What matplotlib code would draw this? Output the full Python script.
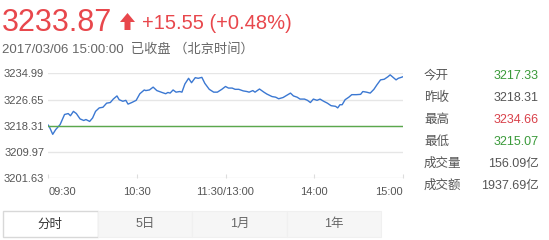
import matplotlib
matplotlib.use("Agg")
import matplotlib.pyplot as plt
from matplotlib.patches import Rectangle, Polygon

plt.rcParams['font.family'] = ['Liberation Sans', 'Noto Sans CJK SC']

# minutes since 09:30 (lunch break removed), index price
minutes = [0, 1, 3, 5, 8, 11, 13.5, 15, 17, 19, 21.5, 24, 25.5, 28, 30, 32, 34.5, 37,
           39.5, 42, 44, 46.5, 48, 50.5, 52.5, 54, 56.5, 59.5, 62, 65, 66, 68.5, 71,
           73.5, 77, 79.5, 81, 82.5, 84.5, 86.5, 89, 90.5, 92.5, 95, 97, 99.5, 101.5,
           104, 106, 109, 112, 114.5, 117.5, 120, 122, 124.5, 126.5, 129, 132, 134.5,
           136, 138.5, 140, 143, 146, 148, 151.5, 154, 156, 159, 161.5, 164, 166,
           168.5, 170.5, 173.5, 175.5, 177.5, 179.5, 182, 184, 186.5, 189, 191.5,
           194.5, 196, 197.5, 199, 201, 203.5, 205.5, 208.5, 211.5, 213, 215.5, 218,
           220.5, 222.5, 225, 227.5, 230, 231.5, 233.5, 235.5, 237, 239, 240]
prices = [3218.5, 3217.7, 3215.6, 3217.1, 3218.7, 3221.9, 3222.2, 3221.5, 3222.9,
          3222.2, 3220.5, 3220.0, 3220.3, 3219.7, 3220.8, 3222.9, 3224.0, 3224.2,
          3225.5, 3225.7, 3226.8, 3227.8, 3226.6, 3226.1, 3226.4, 3225.2, 3225.7,
          3226.4, 3228.5, 3229.7, 3229.5, 3229.7, 3230.6, 3229.5, 3228.9, 3228.5,
          3228.9, 3228.7, 3229.7, 3229.0, 3229.2, 3229.0, 3231.6, 3233.4, 3232.0,
          3233.6, 3233.4, 3233.7, 3231.8, 3229.9, 3229.0, 3229.0, 3229.9, 3230.8,
          3230.3, 3230.3, 3229.9, 3229.9, 3229.4, 3229.2, 3229.0, 3229.5, 3229.0,
          3230.0, 3229.0, 3228.4, 3227.6, 3227.4, 3226.9, 3227.3, 3228.0, 3228.7,
          3227.8, 3227.4, 3226.8, 3226.8, 3226.4, 3225.7, 3226.8, 3226.4, 3226.8,
          3226.1, 3225.5, 3224.7, 3224.5, 3224.0, 3225.0, 3225.0, 3226.6, 3227.4,
          3228.2, 3228.2, 3228.3, 3229.2, 3229.0, 3228.7, 3229.9, 3231.3, 3232.9,
          3233.1, 3233.9, 3234.5, 3233.7, 3232.9, 3233.4, 3233.7, 3233.87]
prev_close = 3218.31

y_ticks = [3201.63, 3209.97, 3218.31, 3226.65, 3234.99]
x_ticks = [0, 60, 120, 180, 240]
x_labels = ["09:30", "10:30", "11:30/13:00", "14:00", "15:00"]

last = "3233.87"
change = "+15.55 (+0.48%)"
stamp = "2017/03/06 15:00:00  已收盘 （北京时间）"
stat_names = ["今开", "昨收", "最高", "最低", "成交量", "成交额"]
stat_values = ["3217.33", "3218.31", "3234.66", "3215.07", "156.09亿", "1937.69亿"]
stat_colors = ["#3a9a3a", "#555555", "#d9414a", "#3a9a3a", "#555555", "#555555"]
tabs = ["分时", "5日", "1月", "1年"]

W, H = 549, 240
red = "#e8474c"


def fx(px):
    return px / W


def fy(py):
    return 1 - py / H


fig = plt.figure(figsize=(W / 100, H / 100), dpi=100)

ax = fig.add_axes([fx(48.3), fy(178.3), (402.7 - 48.3) / W, (178.3 - 73.3) / H])
ax.plot(minutes, prices, color="#3b78d2", lw=1.0)
ax.axhline(prev_close, color="#5aa84c", lw=1.0)
ax.set_xlim(0, 240)
ax.set_ylim(y_ticks[0], y_ticks[-1])
ax.set_yticks(y_ticks)
ax.set_yticklabels([f"{v:.2f}" for v in y_ticks])
ax.set_xticks(x_ticks)
ax.set_xticklabels(x_labels)
for lab, ha in zip(ax.get_xticklabels(), ["left", "center", "center", "center", "right"]):
    lab.set_ha(ha)
ax.grid(axis="y", color="#e6e6e6", lw=1.0)
ax.set_axisbelow(True)
for s in ax.spines.values():
    s.set_visible(False)
ax.tick_params(axis="y", length=0, pad=3, labelsize=8, labelcolor="#555555")
ax.tick_params(axis="x", direction="in", length=3, color="#dddddd", pad=6,
               labelsize=8, labelcolor="#555555")

# header
fig.text(fx(2), fy(31), last, color=red, fontsize=22, va="baseline", ha="left")
fig.patches.append(Polygon(
    [(fx(120), fy(22)), (fx(127.5), fy(13)), (fx(135), fy(22)), (fx(130.5), fy(22)),
     (fx(130.5), fy(30)), (fx(124.5), fy(30)), (fx(124.5), fy(22))],
    closed=True, transform=fig.transFigure, facecolor=red, edgecolor="none"))
fig.text(fx(142), fy(29), change, color=red, fontsize=14.5, va="baseline", ha="left")
fig.text(fx(2), fy(53), stamp, color="#666666", fontsize=9.5, va="baseline", ha="left")

# stats panel
for i, (name, val, col) in enumerate(zip(stat_names, stat_values, stat_colors)):
    yy = 75.7 + i * 22
    fig.text(fx(424), fy(yy), name, color="#555555", fontsize=9, va="center", ha="left")
    fig.text(fx(539), fy(yy), val, color=col, fontsize=9, va="center", ha="right")

# tabs
tab_edges = [3, 97.5, 192, 287, 381]
for i, t in enumerate(tabs):
    x0, x1 = tab_edges[i], tab_edges[i + 1]
    if i == 0:
        fig.patches.append(Rectangle((fx(x0), fy(236.5)), fx(x1 - x0), (236.5 - 211) / H,
                                     transform=fig.transFigure, facecolor="white",
                                     edgecolor="#d8d8d8", lw=1.0))
        col = "#333333"
    else:
        fig.patches.append(Rectangle((fx(x0), fy(237)), fx(x1 - x0), (237 - 211) / H,
                                     transform=fig.transFigure, facecolor="#f6f6f6",
                                     edgecolor="#f0f0f0", lw=0.8))
        col = "#666666"
    fig.text(fx((x0 + x1) / 2), fy(224.3), t, color=col, fontsize=9, va="center", ha="center")

fig.savefig("out.png", dpi=100)
